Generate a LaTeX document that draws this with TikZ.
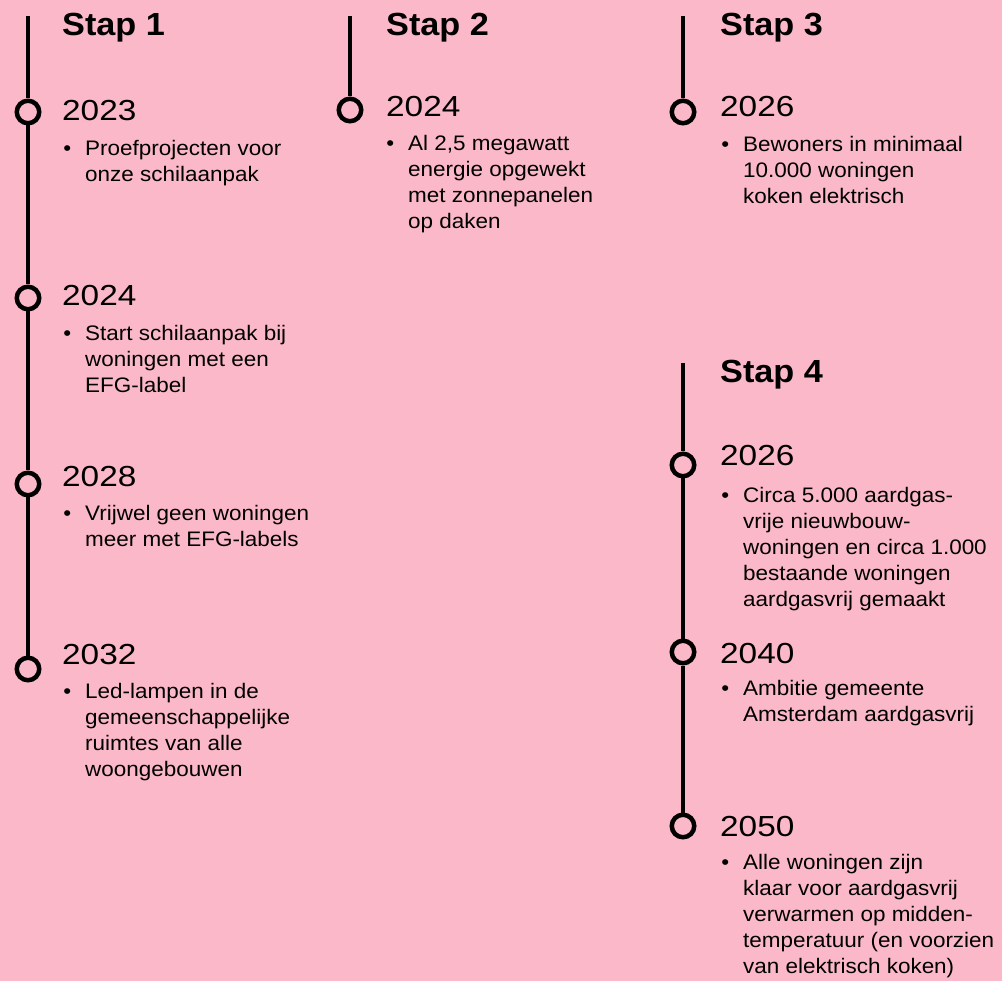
\documentclass[tikz,border=0pt]{standalone}
\usepackage{fontspec}
\setmainfont[FakeStretch=1.07]{Liberation Sans}
\newfontfamily\jaarfont[FakeStretch=1.15]{Liberation Sans}
\definecolor{roze}{HTML}{FBB8C9}
\newcommand{\punt}{\llap{\textbullet\hspace{14pt}}}

\begin{document}
\begin{tikzpicture}[x=1pt,y=-1pt,
  stap/.style={anchor=base west, inner sep=0pt, font=\bfseries\fontsize{32}{38}\selectfont},
  jaar/.style={anchor=base west, inner sep=0pt, font=\jaarfont\fontsize{29}{34}\selectfont},
  tekst/.style={anchor=base west, inner sep=0pt, align=left, font=\fontsize{21}{26}\selectfont},
  mijlpaal/.style={circle, draw, line width=4.5pt, fill=roze, minimum size=22.5pt, inner sep=0pt},
  lijn/.style={line width=4.3pt}]
\path[fill=roze, use as bounding box] (0,0) rectangle (1002,981);

% stap 1 (tekst staat op de basislijn van de laatste regel)
\coordinate (b1) at (28,16);
\node[mijlpaal] (c1a) at (28,112) {};
\node[mijlpaal] (c1b) at (28,298) {};
\node[mijlpaal] (c1c) at (28,484) {};
\node[mijlpaal] (c1d) at (28,669) {};
\draw[lijn] (b1) -- (c1a) -- (c1b) -- (c1c) -- (c1d);
\node[stap] (s1) at (62,36) {Stap 1};
\node[jaar] (j1a) at (62,121) {2023};
\node[tekst] (t1a) at (85,182) {\punt Proefprojecten voor\\onze schilaanpak};
\node[jaar] (j1b) at (62,306) {2024};
\node[tekst] (t1b) at (85,393) {\punt Start schilaanpak bij\\woningen met een\\EFG-label};
\node[jaar] (j1c) at (62,486) {2028};
\node[tekst] (t1c) at (85,547) {\punt Vrijwel geen woningen\\meer met EFG-labels};
\node[jaar] (j1d) at (62,664) {2032};
\node[tekst] (t1d) at (85,776) {\punt Led-lampen in de\\gemeenschappelijke\\ruimtes van alle\\woongebouwen};

% stap 2
\coordinate (b2) at (350,16);
\node[mijlpaal] (c2a) at (350,110) {};
\draw[lijn] (b2) -- (c2a);
\node[stap] (s2) at (386,36) {Stap 2};
\node[jaar] (j2a) at (386,117) {2024};
\node[tekst] (t2a) at (408,229) {\punt Al 2,5 megawatt\\energie opgewekt\\met zonnepanelen\\op daken};

% stap 3
\coordinate (b3) at (683,16);
\node[mijlpaal] (c3a) at (683,112) {};
\draw[lijn] (b3) -- (c3a);
\node[stap] (s3) at (720,36) {Stap 3};
\node[jaar] (j3a) at (720,117) {2026};
\node[tekst] (t3a) at (743,204) {\punt Bewoners in minimaal\\10.000 woningen\\koken elektrisch};

% stap 4
\coordinate (b4) at (683,363);
\node[mijlpaal] (c4a) at (683,465) {};
\node[mijlpaal] (c4b) at (683,652) {};
\node[mijlpaal] (c4c) at (683,826) {};
\draw[lijn] (b4) -- (c4a) -- (c4b) -- (c4c);
\node[stap] (s4) at (720,383) {Stap 4};
\node[jaar] (j4a) at (720,466) {2026};
\node[tekst] (t4a) at (743,606) {\punt Circa 5.000 aardgas-\\vrije nieuwbouw-\\woningen en circa 1.000\\bestaande woningen\\aardgasvrij gemaakt};
\node[jaar] (j4b) at (720,663) {2040};
\node[tekst] (t4b) at (743,721) {\punt Ambitie gemeente\\Amsterdam aardgasvrij};
\node[jaar] (j4c) at (720,836) {2050};
\node[tekst] (t4c) at (743,973) {\punt Alle woningen zijn\\klaar voor aardgasvrij\\verwarmen op midden-\\temperatuur (en voorzien\\van elektrisch koken)};
\end{tikzpicture}
\end{document}
